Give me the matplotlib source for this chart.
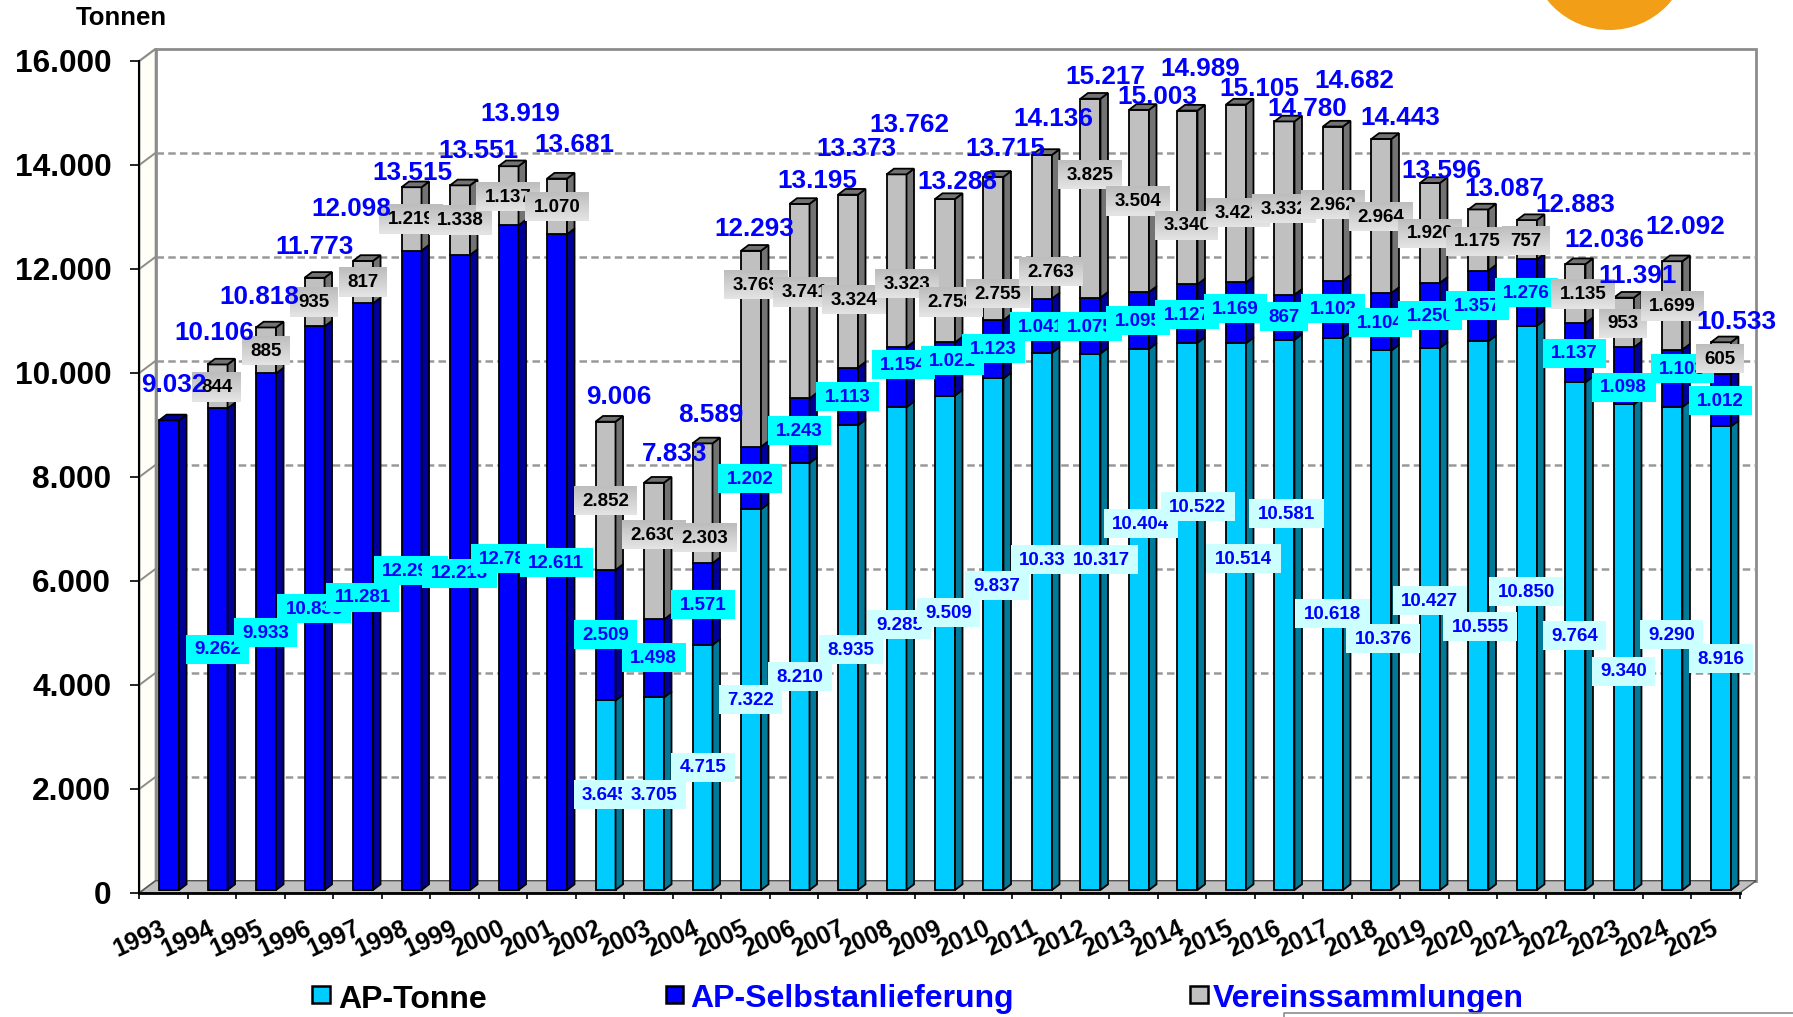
import numpy as np
import matplotlib
matplotlib.use('Agg')
import matplotlib.pyplot as plt
from matplotlib.patches import Polygon, Rectangle, Circle
from matplotlib.transforms import Affine2D

plt.rcParams['font.family'] = ['Liberation Sans', 'DejaVu Sans']
plt.rcParams['font.weight'] = 'bold'

# Werte
years = list(range(1993, 2026))
tonne = [0, 0, 0, 0, 0, 0, 0, 0, 0,
         3645, 3705, 4715, 7322, 8210, 8935, 9285, 9509, 9837, 10332, 10317, 10404,
         10522, 10514, 10581, 10618, 10376, 10427, 10555, 10850, 9764, 9340, 9290, 8916]
selbst = [9032, 9262, 9933, 10838, 11281, 12296, 12213, 12782, 12611,
          2509, 1498, 1571, 1202, 1243, 1113, 1154, 1021, 1123, 1041, 1075, 1095,
          1127, 1169, 867, 1102, 1104, 1250, 1357, 1276, 1137, 1098, 1103, 1012]
verein = [0, 844, 885, 935, 817, 1219, 1338, 1137, 1070,
          2852, 2630, 2303, 3769, 3741, 3324, 3323, 2758, 2755, 2763, 3825, 3504,
          3340, 3422, 3332, 2962, 2964, 1920, 1175, 757, 1135, 953, 1699, 605]
gesamt = [9032, 10106, 10818, 11773, 12098, 13515, 13551, 13919, 13681,
          9006, 7833, 8589, 12293, 13195, 13373, 13762, 13288, 13715, 14136, 15217, 15003,
          14989, 15105, 14780, 14682, 14443, 13596, 13087, 12883, 12036, 11391, 12092, 10533]
y_ticks = [0, 2000, 4000, 6000, 8000, 10000, 12000, 14000, 16000]

# Lage der von Hand verschobenen Beschriftungen im Bild (Pixel, Mitte)
gesamt_x = [174, 214.5, 259, 315, 351.5, 412, 478, 520, 574, 619, 675, 711, 754, 817, 856.5, 909.5, 957,
            1005.5, 1053, 1105.5, 1157, 1200.5, 1259, 1307.4, 1354.5, 1400, 1441, 1504, 1575, 1604, 1638,
            1685.6, 1736]
gesamt_y = [383, 331, 295, 246, 207.7, 171, 150, 112.7, 144, 395.7, 452.7, 414, 227.7, 179, 147.7, 124,
            180.7, 147.7, 117.7, 76, 95, 67.7, 87.7, 107.7, 80, 116.7, 169.3, 187.7, 203.7, 238.7, 274.3,
            225.7, 320.7]
verein_x = [None, 216.6, 265.8, 313.8, 362.8, 411, 460.5, 508, 557.3, 605.5, 654, 704.7, 756, 804.7, 854,
            907, 950.8, 998, 1051, 1089.7, 1138.3, 1186.6, 1238, 1284, 1332.8, 1380.8, 1429.8, 1477.6, 1526,
            1582.8, 1623, 1672.4, 1720]
verein_y = [None, 386.7, 350, 301.8, 281.8, 218.7, 219.7, 196, 206.3, 500, 534.3, 537.3, 284, 291.7, 299.3,
            283.3, 301.7, 293.3, 271.3, 174, 200.7, 225, 212.3, 208.3, 204, 216, 233, 241, 240, 293.7, 323,
            305.7, 358]
selbst_x = [None, 217.4, 265.6, 314.2, 362.6, 410.9, 459.5, 508, 556.3, 605.5, 653.8, 702.8, 750, 799.6,
            847.6, 903.4, 952.4, 993.5, 1041.5, 1090, 1138.3, 1187, 1235.4, 1284.3, 1332.8, 1380.4, 1429.8,
            1477.4, 1526.6, 1574.6, 1623.6, 1682.4, 1720.6]
selbst_y = [None, 649, 632, 608, 597, 570, 573, 558, 562, 634.7, 657.7, 604, 478, 430.7, 396, 364, 360,
            348.7, 326, 326, 320.7, 314, 308, 316.7, 308.7, 322, 315.7, 305.7, 292.7, 353, 387, 368, 400]
tonne_x = [None] * 9 + [605.5, 653.8, 702.8, 750.6, 799.6, 850.6, 899.4, 948.4, 997.2, 1047.6, 1101.2, 1140.7,
                        1197.8, 1243.5, 1286.4, 1332.6, 1383.2, 1429.8, 1480, 1526.2, 1574.6, 1623.6, 1671.4,
                        1720.6]
tonne_y = [None] * 9 + [794.7, 794.4, 767, 699.9, 676.9, 649.9, 624.2, 612.2, 585.8, 559.8, 559.8, 523.8, 506.7,
                        558, 513.7, 613.9, 638.9, 600.2, 626, 591.8, 635.8, 671, 634.8, 658]

W, H = 1793, 1017
fig = plt.figure(figsize=(W / 100, H / 100), dpi=100)
fig.patch.set_facecolor('white')

# Achse: vordere Kante des 3D-Diagramms
x0, x1, y0, y16 = 139.3, 1739.7, 893, 61
ax = fig.add_axes([x0 / W, 1 - y0 / H, (x1 - x0) / W, (y0 - y16) / H])
ax.set_xlim(-0.5, 32.5)
ax.set_ylim(0, 16000)
ax.patch.set_visible(False)

px = Affine2D().scale(1, -1).translate(0, H)    # Pixel von oben links


def fmt(v):
    return f'{v:,}'.replace(',', '.')


# Rueckwand, linke Wand, Boden
depth_x = 16.5
depth_y = 12.3
back = ax.transData + Affine2D().translate(depth_x, depth_y)
ax.add_patch(Polygon([(x0, y0), (x0 + depth_x, y0 - depth_y), (x0 + depth_x, y16 - depth_y), (x0, y16)],
                     closed=True, transform=px, fc='#FFFFF8', ec='#8C8C8C', lw=1.6, zorder=0.5, clip_on=False))
ax.add_patch(Rectangle((-0.5, 0), 33, 16000, transform=back, fc='white', ec='#8C8C8C', lw=2, zorder=0.6,
                       clip_on=False))
for t in y_ticks[1:-1]:
    ax.plot([-0.5, 32.5], [t, t], transform=back, color='#999999', lw=1.8, dashes=(3, 1.7), zorder=0.7,
            clip_on=False)
    p0 = ax.transData.transform((-0.5, t))
    ax.plot([p0[0], p0[0] + depth_x], [p0[1], p0[1] + depth_y], transform=None, color='#8C8C8C', lw=1.4,
            zorder=0.7, clip_on=False)
ax.add_patch(Polygon([(x0, y0), (x0 + depth_x, y0 - depth_y), (x1 + depth_x, y0 - depth_y), (x1, y0)],
                     closed=True, transform=px, fc='#C0C0C0', ec='#555555', lw=1, zorder=0.8, clip_on=False))

# Saeulen mit Seiten- und Deckflaeche
bar_trans = ax.transData + Affine2D().translate(5.5, 3)
bw = 20 / 48.5
ddx = 7.5 / 48.5
ddy = 5.7 / 0.052
xs = np.arange(len(years))
series = [(tonne, '#00CCFF', '#007A99'), (selbst, '#0000FF', '#000099'), (verein, '#C0C0C0', '#737373')]
bottom = np.zeros(len(years))
stack_top = np.array(tonne) + np.array(selbst) + np.array(verein)
for vals, col, dark in series:
    vals = np.array(vals, dtype=float)
    ax.bar(xs, vals, width=bw, bottom=bottom, color=col, edgecolor='black', lw=1.3, transform=bar_trans,
           zorder=2, clip_on=False)
    for i in xs:
        if vals[i] == 0:
            continue
        xr = i + bw / 2
        b, t = bottom[i], bottom[i] + vals[i]
        ax.add_patch(Polygon([(xr, b), (xr + ddx, b + ddy), (xr + ddx, t + ddy), (xr, t)], closed=True,
                             transform=bar_trans, fc=dark, ec='black', lw=1.3, zorder=2, clip_on=False))
        # Deckflaeche nur beim obersten Teil der Saeule
        if t == stack_top[i]:
            ax.add_patch(Polygon([(i - bw / 2, t), (i - bw / 2 + ddx, t + ddy), (xr + ddx, t + ddy), (xr, t)],
                                 closed=True, transform=bar_trans, fc=dark, ec='black', lw=1.3, zorder=2.1,
                                 clip_on=False))
    bottom += vals


def add_box(cx, cy, label, color, z, fc=None):
    txt = ax.text(cx, cy + 1, label, transform=px, ha='center', va='center', fontsize=13.5, color=color,
                  zorder=z + 0.5, clip_on=False)
    w = txt.get_window_extent(renderer).width + 17
    h = 29
    if fc is None:
        # Verlauf von oben dunkler nach unten heller
        for k, g in enumerate(np.linspace(0.74, 0.89, 15)):
            ax.add_patch(Rectangle((cx - w / 2, cy - h / 2 + k * h / 15), w, h / 15 + 0.5, transform=px,
                                   fc=(g, g, g), ec='none', zorder=z, clip_on=False))
    else:
        ax.add_patch(Rectangle((cx - w / 2, cy - h / 2), w, h, transform=px, fc=fc, ec='none', zorder=z,
                               clip_on=False))


renderer = fig.canvas.get_renderer()
for i in xs:
    if tonne_x[i] is not None:
        add_box(tonne_x[i], tonne_y[i], fmt(tonne[i]), '#0000FF', 10 + i, fc='#CCFFFF')
    if selbst_x[i] is not None:
        add_box(selbst_x[i], selbst_y[i], fmt(selbst[i]), '#0000FF', 60 + i, fc='#00FFFF')
    if verein_x[i] is not None:
        add_box(verein_x[i], verein_y[i], fmt(verein[i]), 'black', 110 + i)
    ax.text(gesamt_x[i], gesamt_y[i] + 1.5, fmt(gesamt[i]), transform=px, ha='center', va='center', fontsize=18.8,
            color='#0000FF', zorder=200, clip_on=False)

# Achsen
for s in ['top', 'right']:
    ax.spines[s].set_visible(False)
ax.spines['left'].set_linewidth(1.5)
ax.spines['bottom'].set_linewidth(2)
ax.spines['left'].set_zorder(1)
ax.spines['bottom'].set_zorder(1)
ax.set_yticks(y_ticks, [fmt(t) for t in y_ticks])
ax.set_xticks(np.arange(34) - 0.5, [str(y) for y in years] + [''])
ax.tick_params(axis='y', length=6.2, width=1.2, pad=14, labelsize=22.8)
ax.tick_params(axis='x', length=4.5, width=1.2, pad=12, labelsize=18, labelrotation=25)

# Legende
leg_sq = [312, 665.6, 1190]
leg_tx = [338, 690, 1213]
leg_lab = ['AP-Tonne', 'AP-Selbstanlieferung', 'Vereinssammlungen']
leg_col = ['#00CCFF', '#0000FF', '#C0C0C0']
leg_txt_col = ['black', '#0000FF', '#0000FF']
for sq, tx, lab, c, tc in zip(leg_sq, leg_tx, leg_lab, leg_col, leg_txt_col):
    ax.add_patch(Rectangle((sq, 986), 17.5, 17, transform=px, fc=c, ec='black', lw=1.8, clip_on=False))
    ax.text(tx, 999.5, lab, transform=px, ha='left', va='center', fontsize=23, color=tc, clip_on=False)

ax.text(76, 18, 'Tonnen', transform=px, ha='left', va='center', fontsize=18.5, color='black', clip_on=False)

# Kreis oben rechts und Rahmen unten rechts (Reste der Folie)
ax.add_patch(Circle((1609.6, -50), 80, transform=px, fc='#F29F17', ec='none', clip_on=False))
ax.plot([1284, 1284, W], [H, 1012.5, 1012.5], transform=px, color='#8C8C8C', lw=1.2, clip_on=False, zorder=250)

fig.savefig('out.png', dpi=100)
